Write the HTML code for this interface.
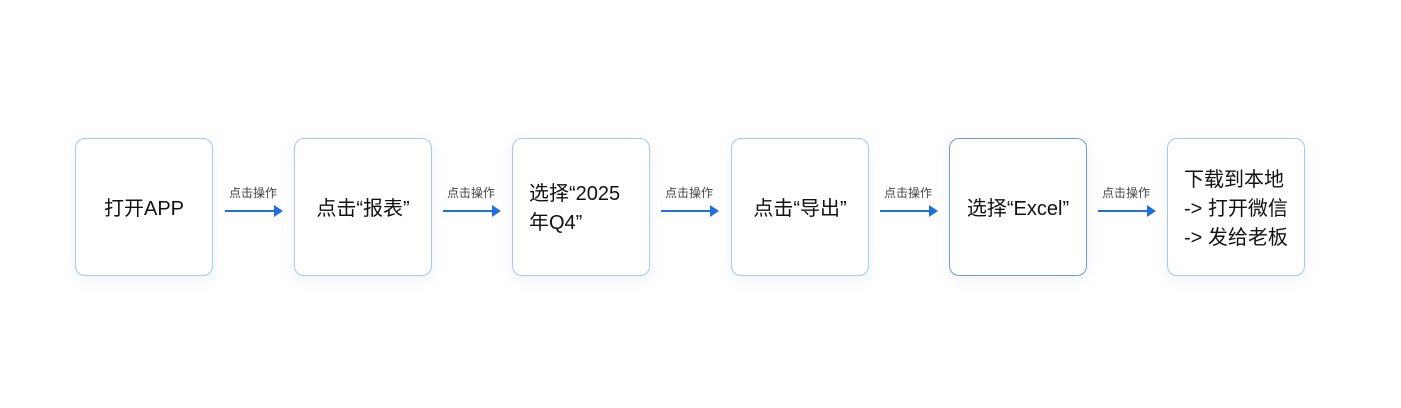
<!DOCTYPE html>
<html><head><meta charset="utf-8"><style>
body{margin:0;width:1401px;height:408px;background:#fff;position:relative;overflow:hidden;font-family:"Liberation Sans","Noto Sans CJK SC",sans-serif;}
.b{position:absolute;top:138px;width:138px;height:138px;border:1px solid #a9c7e8;border-radius:10px;box-shadow:0 4px 14px rgba(120,150,200,0.12);display:flex;align-items:center;justify-content:center;font-size:20px;color:#111;background:#fff;box-sizing:border-box;line-height:29px;padding-top:4px}
.l{position:absolute;top:184px;font-size:12px;color:#444;width:60px;text-align:center}
.a{position:absolute;top:210px;height:2px;background:#1f6fe0;width:50px}
.a:after{content:"";position:absolute;right:-8px;top:-5px;border-left:9px solid #1f6fe0;border-top:6px solid transparent;border-bottom:6px solid transparent}
</style></head><body>
<div class="b" style="left:75px">打开APP</div>
<div class="b" style="left:294px">点击“报表”</div>
<div class="b" style="left:512px;justify-content:flex-start;padding-left:16px">选择“2025<br>年Q4”</div>
<div class="b" style="left:731px">点击“导出”</div>
<div class="b" style="left:949px;border-color:#6f9bd0">选择“Excel”</div>
<div class="b" style="left:1167px;justify-content:flex-start;padding-left:16px">下载到本地<br>-&gt; 打开微信<br>-&gt; 发给老板</div>
<div class="l" style="left:223px">点击操作</div><div class="a" style="left:225px"></div>
<div class="l" style="left:441px">点击操作</div><div class="a" style="left:443px"></div>
<div class="l" style="left:659px">点击操作</div><div class="a" style="left:661px"></div>
<div class="l" style="left:878px">点击操作</div><div class="a" style="left:880px"></div>
<div class="l" style="left:1096px">点击操作</div><div class="a" style="left:1098px"></div>
</body></html>
